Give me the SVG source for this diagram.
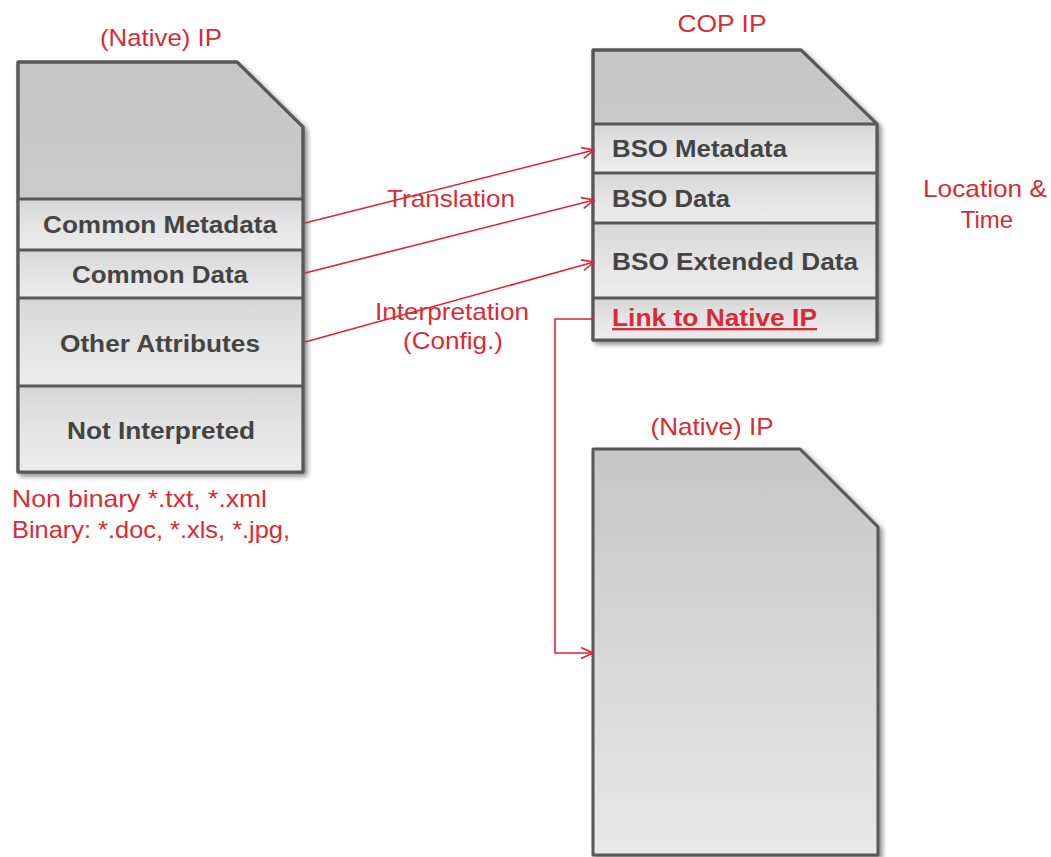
<svg xmlns="http://www.w3.org/2000/svg" width="1051" height="857" viewBox="0 0 1051 857">
<style>
.shape{stroke:#585858;stroke-width:3;stroke-linejoin:round}
.sep{stroke:#585858;stroke-width:3}
.lbl{font-family:"Liberation Sans",Arial,sans-serif;font-size:23px;font-weight:bold;fill:#444}
.red{font-family:"Liberation Sans",Arial,sans-serif;font-size:24px;fill:#d92b36}
.conn{fill:none;stroke:#e0232e;stroke-width:1.6}
</style>
<defs>
<linearGradient id="gTop" x1="0" y1="0" x2="0" y2="1">
<stop offset="0" stop-color="#c6c6c6"/><stop offset="1" stop-color="#d2d2d2"/>
</linearGradient>
<linearGradient id="gRow" x1="0" y1="0" x2="0" y2="1">
<stop offset="0" stop-color="#d6d6d6"/><stop offset="0.5" stop-color="#e4e4e4"/><stop offset="1" stop-color="#ececec"/>
</linearGradient>
<linearGradient id="gTall" x1="0" y1="0" x2="0" y2="1">
<stop offset="0" stop-color="#c6c6c6"/><stop offset="1" stop-color="#e8e8e8"/>
</linearGradient>
<filter id="sh" x="-10%" y="-10%" width="130%" height="130%">
<feDropShadow dx="3" dy="3" stdDeviation="2.5" flood-color="#000" flood-opacity="0.45"/>
</filter>
<marker id="arr" viewBox="0 0 14 14" refX="13" refY="7" markerWidth="14" markerHeight="14" markerUnits="userSpaceOnUse" orient="auto">
<path d="M1,1.5 L13,7 L1,12.5" fill="none" stroke="#e0232e" stroke-width="1.6"/>
</marker>
</defs>

<g id="native-ip-left">
<text class="red" x="161" y="46" text-anchor="middle" textLength="122" lengthAdjust="spacingAndGlyphs">(Native) IP</text>
<path class="shape" filter="url(#sh)" fill="url(#gTop)" d="M18,62 H237 L303,127 V472 H18 Z"/>
<rect x="19.5" y="199" width="282" height="51" fill="url(#gRow)"/>
<rect x="19.5" y="250" width="282" height="48" fill="url(#gRow)"/>
<rect x="19.5" y="298" width="282" height="88" fill="url(#gRow)"/>
<rect x="19.5" y="386" width="282" height="85" fill="url(#gRow)"/>
<path class="shape" fill="none" d="M18,62 H237 L303,127 V472 H18 Z"/>
<line class="sep" x1="18" y1="199" x2="303" y2="199"/>
<line class="sep" x1="18" y1="250" x2="303" y2="250"/>
<line class="sep" x1="18" y1="298" x2="303" y2="298"/>
<line class="sep" x1="18" y1="386" x2="303" y2="386"/>
<text class="lbl" x="160" y="233" text-anchor="middle" textLength="234" lengthAdjust="spacingAndGlyphs">Common Metadata</text>
<text class="lbl" x="160" y="283" text-anchor="middle" textLength="176" lengthAdjust="spacingAndGlyphs">Common Data</text>
<text class="lbl" x="160" y="352" text-anchor="middle" textLength="200" lengthAdjust="spacingAndGlyphs">Other Attributes</text>
<text class="lbl" x="161" y="439" text-anchor="middle" textLength="188" lengthAdjust="spacingAndGlyphs">Not Interpreted</text>
<text class="red" x="12" y="507" textLength="255" lengthAdjust="spacingAndGlyphs">Non binary *.txt, *.xml</text>
<text class="red" x="12" y="538" textLength="278" lengthAdjust="spacingAndGlyphs">Binary: *.doc, *.xls, *.jpg,</text>
</g>

<g id="cop-ip">
<text class="red" x="722" y="32" text-anchor="middle" textLength="89" lengthAdjust="spacingAndGlyphs">COP IP</text>
<path class="shape" filter="url(#sh)" fill="url(#gTop)" d="M593,50 H801 L877,124 V340 H593 Z"/>
<rect x="594.5" y="124" width="281" height="49" fill="url(#gRow)"/>
<rect x="594.5" y="173" width="281" height="50" fill="url(#gRow)"/>
<rect x="594.5" y="223" width="281" height="75" fill="url(#gRow)"/>
<rect x="594.5" y="298" width="281" height="41" fill="url(#gRow)"/>
<path class="shape" fill="none" d="M593,50 H801 L877,124 V340 H593 Z"/>
<line class="sep" x1="593" y1="124" x2="877" y2="124"/>
<line class="sep" x1="593" y1="173" x2="877" y2="173"/>
<line class="sep" x1="593" y1="223" x2="877" y2="223"/>
<line class="sep" x1="593" y1="298" x2="877" y2="298"/>
<text class="lbl" x="612" y="157" textLength="175" lengthAdjust="spacingAndGlyphs">BSO Metadata</text>
<text class="lbl" x="612" y="207" textLength="118" lengthAdjust="spacingAndGlyphs">BSO Data</text>
<text class="lbl" x="612" y="270" textLength="246" lengthAdjust="spacingAndGlyphs">BSO Extended Data</text>
<text class="lbl" x="612" y="326" textLength="205" lengthAdjust="spacingAndGlyphs" style="fill:#d92b36;text-decoration:underline">Link to Native IP</text>
</g>

<g id="native-ip-right">
<text class="red" x="712" y="435" text-anchor="middle" textLength="123" lengthAdjust="spacingAndGlyphs">(Native) IP</text>
<path class="shape" filter="url(#sh)" fill="url(#gTall)" d="M593,449 H800 L878,527 V855 H593 Z"/>
</g>

<g id="location-time">
<text class="red" x="985" y="197" text-anchor="middle" textLength="124" lengthAdjust="spacingAndGlyphs">Location &amp;</text>
<text class="red" x="987" y="228" text-anchor="middle">Time</text>
</g>

<g id="connectors">
<line class="conn" x1="305" y1="223" x2="594" y2="150" marker-end="url(#arr)"/>
<line class="conn" x1="305" y1="273" x2="594" y2="200" marker-end="url(#arr)"/>
<line class="conn" x1="305" y1="342" x2="594" y2="262" marker-end="url(#arr)"/>
<path class="conn" d="M593,319 H555 V653 H593" marker-end="url(#arr)"/>
<text class="red" x="451" y="207" text-anchor="middle" textLength="128" lengthAdjust="spacingAndGlyphs">Translation</text>
<text class="red" x="452" y="320" text-anchor="middle" textLength="154" lengthAdjust="spacingAndGlyphs">Interpretation</text>
<text class="red" x="453" y="349" text-anchor="middle" textLength="100" lengthAdjust="spacingAndGlyphs">(Config.)</text>
</g>
</svg>
